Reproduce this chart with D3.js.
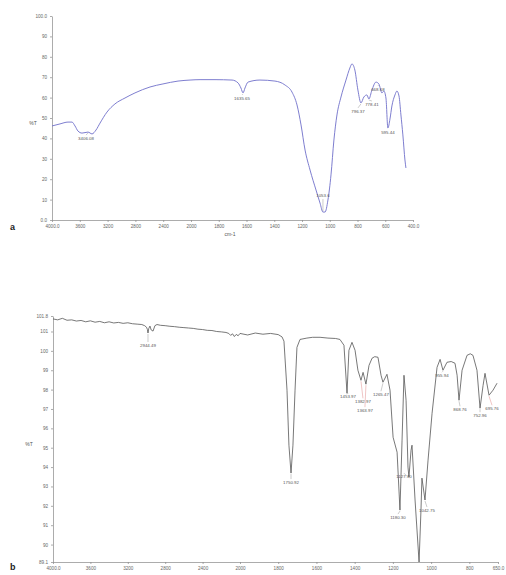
<!DOCTYPE html>
<html>
<head>
<meta charset="utf-8">
<script src="https://cdn.jsdelivr.net/npm/d3@7"></script>
<style>
  body { margin: 0; background: #fff; }
  svg { display: block; font-family: "Liberation Sans", Arial, sans-serif; }
  .axis path, .axis line { stroke: #888; stroke-width: 0.7; }
  .axis text { font-size: 4.6px; fill: #666; }
  .peak { font-size: 4.4px; fill: #555; }
</style>
</head>
<body>
<svg width="506" height="575"></svg>
<script>
// spectrum a (blue), wavenumber in cm-1 and %T
const specAWn = [4000, 3885, 3770, 3712, 3669, 3626, 3568, 3482, 3424, 3367, 3309, 3209, 3094, 2950, 2806, 2590, 2403, 2187, 2014, 1935, 1827, 1704, 1661, 1640, 1625, 1611, 1589, 1503, 1395, 1323, 1272, 1236, 1207, 1178, 1142, 1099, 1070, 1049, 1034, 1013, 991, 970, 948, 919, 883, 855, 840, 819, 797, 775, 754, 732, 718, 696, 667, 646, 624, 610, 595, 581, 566, 552, 530, 516, 501, 487, 473, 458, 451];
const specAT = [46.1, 47.1, 48.0, 48.0, 46.1, 43.6, 42.6, 43.1, 42.2, 44.1, 47.5, 52.9, 56.9, 59.8, 62.3, 65.2, 66.7, 68.1, 68.6, 68.8, 68.8, 68.6, 67.2, 64.7, 62.3, 64.7, 67.6, 68.6, 68.1, 66.2, 62.7, 56.4, 46.6, 34.3, 24.5, 14.7, 8.3, 3.9, 3.9, 9.8, 22.1, 39.2, 51.5, 60.3, 68.6, 74.5, 76.5, 73.5, 63.7, 57.4, 60.3, 61.3, 59.3, 63.7, 67.6, 66.7, 62.3, 63.2, 59.8, 45.1, 49.5, 55.9, 61.3, 63.2, 60.8, 51.5, 41.7, 29.4, 25.5];

// spectrum b (grey)
const specBWn = [4000, 3950, 3900, 3850, 3800, 3750, 3700, 3650, 3600, 3550, 3500, 3450, 3400, 3350, 3300, 3250, 3200, 3150, 3100, 3050, 3020, 3000, 2990, 2984, 2976, 2963, 2950, 2930, 2910, 2888, 2850, 2800, 2750, 2700, 2650, 2600, 2550, 2500, 2450, 2400, 2350, 2300, 2250, 2200, 2150, 2120, 2100, 2080, 2060, 2040, 2020, 2000, 1960, 1920, 1880, 1840, 1800, 1780,
  1770, 1754, 1744, 1733, 1723, 1712, 1702, 1686, 1650, 1620, 1581, 1540, 1500, 1477, 1456, 1440, 1430, 1414, 1398, 1383, 1367, 1356, 1341, 1325, 1309, 1295, 1278, 1262, 1252, 1231, 1215, 1199, 1178, 1163, 1152, 1142, 1131, 1121, 1116, 1105, 1100, 1084, 1063, 1053, 1048, 1032, 1016, 995, 969, 953, 938, 917, 895, 875, 864, 854, 838, 812, 795, 781, 760, 744, 728, 718, 697, 676, 655];
const specBT = [101.65, 101.6, 101.68, 101.58, 101.6, 101.54, 101.57, 101.5, 101.55, 101.48, 101.52, 101.45, 101.5, 101.44, 101.47, 101.42, 101.45, 101.4, 101.38, 101.36, 101.3, 101.22, 101.1, 100.92, 101.15, 101.28, 101.08, 101.02, 101.3, 101.36, 101.32, 101.3, 101.27, 101.25, 101.22, 101.2, 101.18, 101.16, 101.12, 101.1, 101.06, 101.05, 101.0, 100.98, 100.95, 100.9, 100.8, 100.88, 100.74, 100.85, 100.78, 100.9, 100.82, 100.92, 100.86, 100.9, 100.84, 100.72,
  100.5, 97.97, 95.13, 93.69, 95.13, 97.97, 100.18, 100.59, 100.66, 100.7, 100.7, 100.66, 100.64, 100.59, 100.29, 97.81, 100.03, 100.44, 100.03, 99.0, 98.48, 98.89, 98.28, 99.25, 99.62, 99.7, 99.67, 98.74, 98.38, 98.79, 97.97, 95.54, 94.77, 91.78, 95.39, 98.74, 97.45, 94.0, 93.48, 94.87, 95.13, 92.3, 89.1, 91.78, 93.43, 92.3, 94.36, 96.78, 99.15, 99.56, 99.0, 99.41, 99.45, 99.36, 98.74, 97.45, 99.0, 99.77, 99.85, 99.77, 99.0, 97.04, 98.22, 98.84, 97.71, 97.97, 98.33];

// axis ticks
const aXTicks = [4000, 3600, 3200, 2800, 2400, 2000, 1800, 1600, 1400, 1200, 1000, 800, 600, 400];
const aYTicks = [0, 10, 20, 30, 40, 50, 60, 70, 80, 90, 100];
const bXTicks = [4000, 3600, 3200, 2800, 2400, 2000, 1800, 1600, 1400, 1200, 1000, 800, 650];
const bYTicks = [89.1, 90, 91, 92, 93, 94, 95, 96, 97, 98, 99, 100, 101, 101.8];

// peak labels: wavenumber where the label points, label text
const peaksAWn = [3482, 1625, 1049, 775, 718, 646, 581];
const peaksAText = ["3406.08", "1635.65", "1053.6", "796.37", "778.41", "668.68", "595.44"];
const peaksBWn = [2984, 1733, 1440, 1367, 1341, 1252, 1163, 1116, 1032, 938, 854, 744, 697];
const peaksBText = ["2944.49", "1750.92", "1453.97", "1382.97", "1363.97", "1265.47", "1180.30", "1127.70", "1042.75", "955.94", "868.76", "752.96", "695.76"];

// label layout (dx, dy from the point)
const layoutA = [[-2, 8], [-1, 7], [0, -15], [-3, 10], [3, 7], [-1, 7], [0, 6]];
const layoutB = [[0, 14], [0, 11], [1, 5], [2, 23], [-1, 28], [-2, 14], [-2, 9], [-5, 1], [2, 12], [-1, 7], [1, 11], [0, 9], [3, 15]];
const redB = [false, false, false, true, true, false, false, false, false, false, false, false, true];

const svg = d3.select("svg");

const aX = d3.scaleLinear().domain([4000, 2000, 400]).range([52, 191, 413]);
const aY = d3.scaleLinear().domain([0, 100]).range([220, 16]);
const bX = d3.scaleLinear().domain([4000, 2000, 650]).range([53, 240, 498]);
const bY = d3.scaleLinear().domain([89.1, 101.8]).range([562, 316]);

function drawPanel(x, y, xt, yt, fmtX, fmtY) {
  const g = svg.append("g");
  g.append("g").attr("class", "axis")
    .attr("transform", `translate(0,${y.range()[0]})`)
    .call(d3.axisBottom(x).tickValues(xt).tickSize(2).tickSizeOuter(0).tickPadding(3).tickFormat(fmtX));
  g.append("g").attr("class", "axis")
    .attr("transform", `translate(${x.range()[0]},0)`)
    .call(d3.axisLeft(y).tickValues(yt).tickSize(2).tickSizeOuter(0).tickPadding(3).tickFormat(fmtY));
  return g;
}

const fmtAX = d => (d === 4000 || d === 400) ? d.toFixed(1) : d;
const fmtAY = d => (d === 0 || d === 100) ? d.toFixed(1) : d;
const fmtBX = d => (d === 4000 || d === 650) ? d.toFixed(1) : d;
const fmtBY = d => (d % 1 !== 0) ? d.toFixed(1) : d;

const gA = drawPanel(aX, aY, aXTicks, aYTicks, fmtAX, fmtAY);
const gB = drawPanel(bX, bY, bXTicks, bYTicks, fmtBX, fmtBY);

// curves
const dataA = specAWn.map((w, i) => [w, specAT[i]]);
const dataB = specBWn.map((w, i) => [w, specBT[i]]);

gA.append("path").datum(dataA)
  .attr("fill", "none").attr("stroke", "#6f6fc9").attr("stroke-width", 0.9)
  .attr("d", d3.line().x(d => aX(d[0])).y(d => aY(d[1])).curve(d3.curveMonotoneX));

gB.append("path").datum(dataB)
  .attr("fill", "none").attr("stroke", "#555").attr("stroke-width", 0.8)
  .attr("d", d3.line().x(d => bX(d[0])).y(d => bY(d[1])));

// peak labels
function peakLabels(g, x, y, wns, texts, data, layout, red) {
  wns.forEach((w, i) => {
    const v = d3.scaleLinear().domain(data.map(d => d[0])).range(data.map(d => d[1]))(w);
    const px = x(w), py = y(v);
    const [dx, dy] = layout[i];
    const ty = py + dy;
    const col = red && red[i] ? "#e08a8a" : "#999";
    if (dy > 0) {
      g.append("line").attr("x1", px).attr("x2", px + dx).attr("y1", py + 1).attr("y2", ty - 5)
        .attr("stroke", col).attr("stroke-width", 0.5);
    } else {
      g.append("line").attr("x1", px).attr("x2", px).attr("y1", py - 1).attr("y2", ty + 2)
        .attr("stroke", col).attr("stroke-width", 0.5);
    }
    g.append("text").attr("class", "peak").attr("x", px + dx).attr("y", ty)
      .attr("text-anchor", "middle").text(texts[i]);
  });
}
peakLabels(gA, aX, aY, peaksAWn, peaksAText, dataA.slice().reverse(), layoutA, null);
peakLabels(gB, bX, bY, peaksBWn, peaksBText, dataB.slice().reverse(), layoutB, redB);

// axis titles and panel letters
svg.append("text").attr("x", 33).attr("y", 125).attr("text-anchor", "middle")
  .style("font-size", "5px").style("fill", "#555").text("%T");
svg.append("text").attr("x", 230).attr("y", 236).attr("text-anchor", "middle")
  .style("font-size", "5px").style("fill", "#555").text("cm-1");
svg.append("text").attr("x", 29).attr("y", 446).attr("text-anchor", "middle")
  .style("font-size", "5px").style("fill", "#555").text("%T");
svg.append("text").attr("x", 10).attr("y", 230)
  .style("font-size", "9px").style("font-weight", "bold").style("fill", "#222").text("a");
svg.append("text").attr("x", 10).attr("y", 570)
  .style("font-size", "9px").style("font-weight", "bold").style("fill", "#222").text("b");
</script>
</body>
</html>
